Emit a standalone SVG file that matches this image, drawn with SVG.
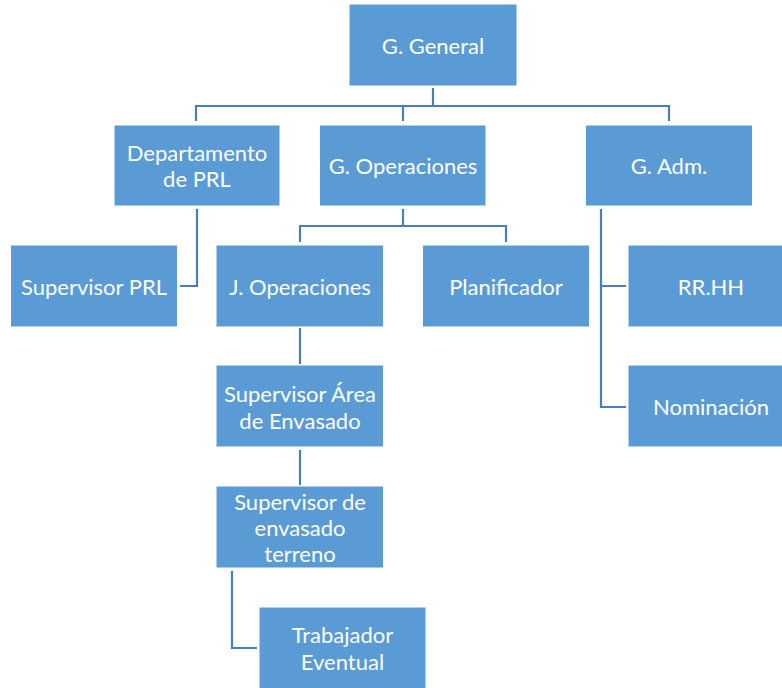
<svg xmlns="http://www.w3.org/2000/svg" width="782" height="688" viewBox="0 0 782 688">
<style>
.box{fill:#5B9BD5;stroke:#FFFFFF;stroke-width:1}
.lbl{font-family:Lato,"Liberation Sans",sans-serif;font-size:22px;fill:#FFFFFF;text-anchor:middle;dominant-baseline:central}
.cn{fill:none;stroke:#4A7EBB;stroke-width:2.2}
</style>
<rect width="782" height="688" fill="#FFFFFF"/>
<g id="connectors">
<path class="cn" d="M433,88 V106 M196,121 V106 H669 V121 M403,106 V121"/>
<path class="cn" d="M197,209 V286 H180"/>
<path class="cn" d="M403,209 V226 M300,242 V226 H506 V242"/>
<path class="cn" d="M601,209 V407 H626 M601,286 H626"/>
<path class="cn" d="M300,328 V364"/>
<path class="cn" d="M300,450 V485"/>
<path class="cn" d="M232,571 V648 H257"/>
</g>
<g id="g-general"><rect class="box" x="349" y="4" width="168" height="82"/><text class="lbl" x="433" y="45">G. General</text></g>
<g id="dept-prl"><rect class="box" x="114" y="125" width="166" height="81"/><text class="lbl" x="197" y="152">Departamento</text><text class="lbl" x="197" y="178">de PRL</text></g>
<g id="g-operaciones"><rect class="box" x="319.5" y="125" width="166.5" height="81"/><text class="lbl" x="403" y="165">G. Operaciones</text></g>
<g id="g-adm"><rect class="box" x="585.5" y="125" width="167" height="81"/><text class="lbl" x="669" y="165">G. Adm.</text></g>
<g id="supervisor-prl"><rect class="box" x="10.5" y="245" width="167" height="82"/><text class="lbl" x="94" y="286">Supervisor PRL</text></g>
<g id="j-operaciones"><rect class="box" x="216" y="245" width="167.5" height="82"/><text class="lbl" x="300" y="286">J. Operaciones</text></g>
<g id="planificador"><rect class="box" x="422.5" y="245" width="167" height="82"/><text class="lbl" x="506" y="286">Planificador</text></g>
<g id="rrhh"><rect class="box" x="628" y="245" width="160" height="82"/><text class="lbl" x="711" y="286">RR.HH</text></g>
<g id="supervisor-area"><rect class="box" x="216" y="365" width="167.5" height="82"/><text class="lbl" x="300" y="393">Supervisor Área</text><text class="lbl" x="300" y="420">de Envasado</text></g>
<g id="nominacion"><rect class="box" x="628" y="365" width="160" height="82"/><text class="lbl" x="711" y="406">Nominación</text></g>
<g id="supervisor-terreno"><rect class="box" x="216" y="486" width="167.5" height="82"/><text class="lbl" x="300" y="501">Supervisor de</text><text class="lbl" x="300" y="527">envasado</text><text class="lbl" x="300" y="553">terreno</text></g>
<g id="trabajador"><rect class="box" x="259" y="607" width="167" height="85"/><text class="lbl" x="342.5" y="634">Trabajador</text><text class="lbl" x="342.5" y="661">Eventual</text></g>
</svg>
